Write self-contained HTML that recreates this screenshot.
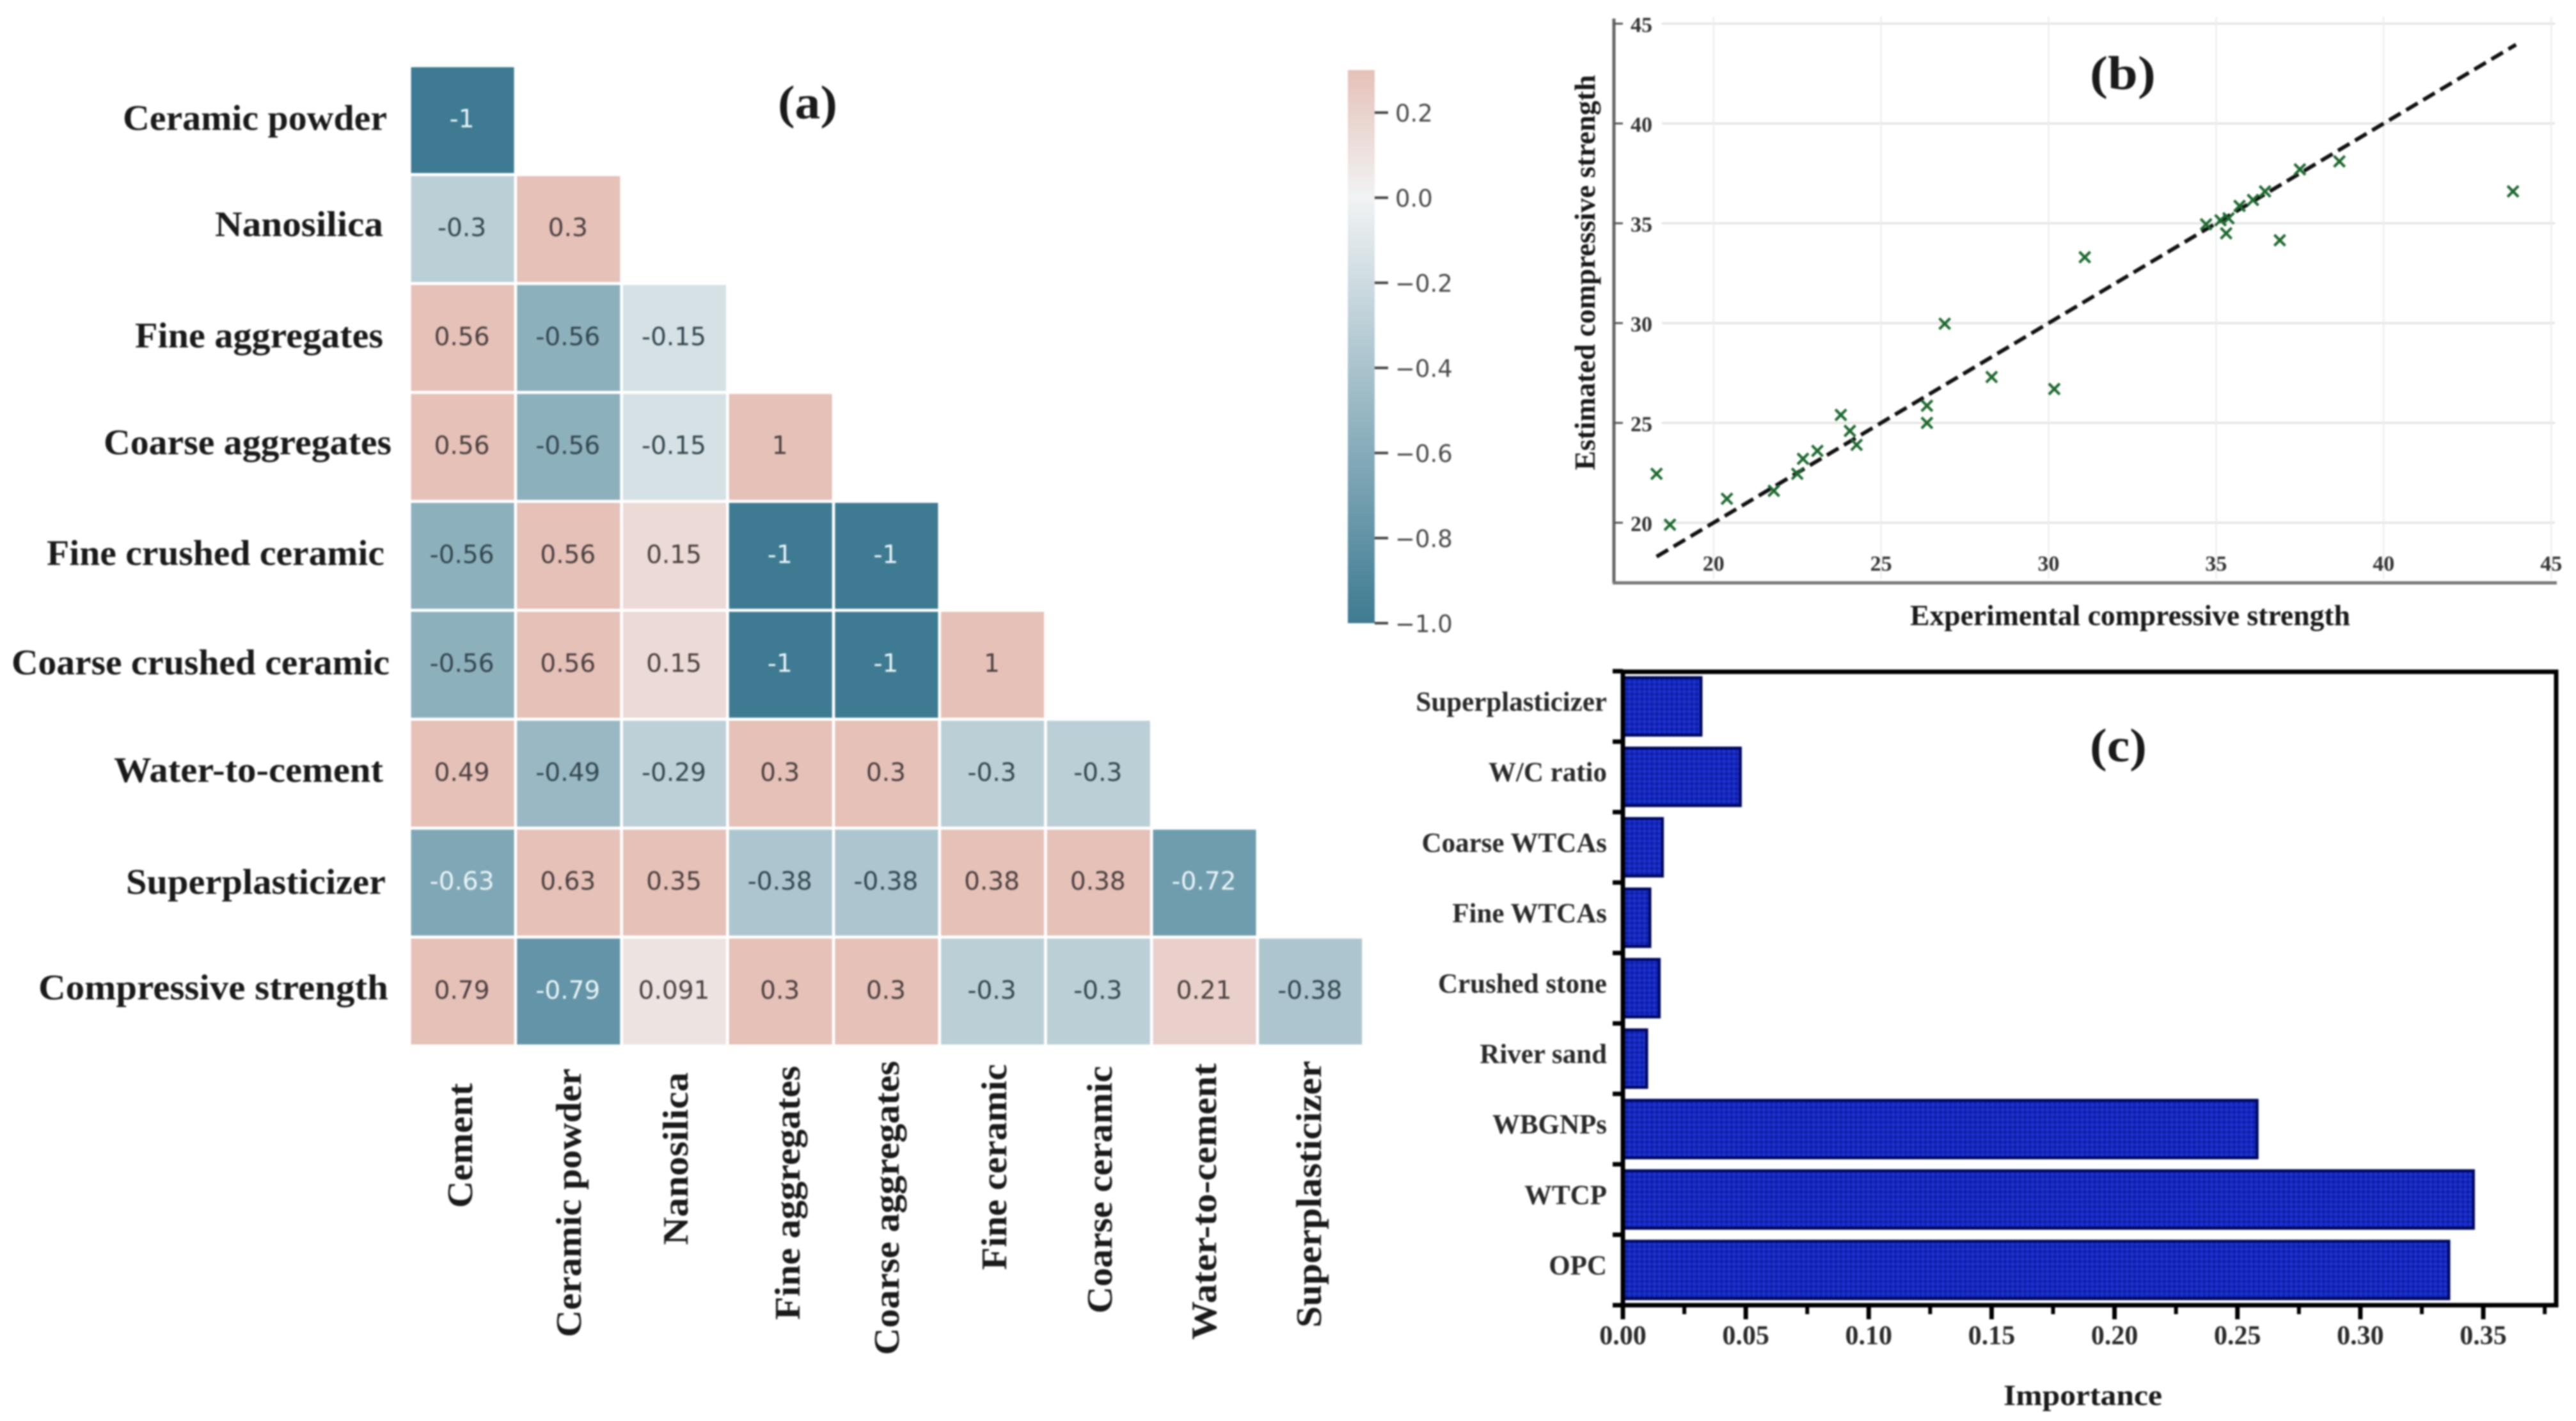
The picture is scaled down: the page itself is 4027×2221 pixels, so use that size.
<!DOCTYPE html>
<html lang="en">
<head>
<meta charset="utf-8">
<title>Correlation heatmap, prediction scatter and feature importance</title>
<style>
html,body{margin:0;padding:0;background:#fff;width:4027px;height:2221px;overflow:hidden}
svg{display:block;filter:blur(1.3px)}
.serif{font-family:"Liberation Serif",serif;font-weight:bold;fill:#1a1a1a}
.cellt{font-family:"DejaVu Sans",sans-serif;font-size:39px;text-anchor:middle}
.cbt{font-family:"DejaVu Sans",sans-serif;font-size:37px;fill:#4a4a4a}
</style>
</head>
<body>
<svg id="figure" xmlns="http://www.w3.org/2000/svg" width="4027" height="2221" viewBox="0 0 4027 2221">
  <defs>
    <pattern id="hatch" width="11" height="11" patternUnits="userSpaceOnUse" patternTransform="rotate(45)">
      <rect width="11" height="11" fill="#1c32d2"/>
      <rect width="5.5" height="5.5" fill="#0f1fa6"/>
      <rect x="5.5" y="5.5" width="5.5" height="5.5" fill="#0f1fa6"/>
    </pattern>
    <linearGradient id="cbgrad" x1="0" y1="1" x2="0" y2="0"></linearGradient>
  </defs>
  <rect width="4027" height="2221" fill="#fff"/>

  <g id="panel-a">
    <text class="serif" x="1216" y="185" font-size="74" textLength="93" lengthAdjust="spacingAndGlyphs">(a)</text>
    <g font-size="56">
      <text class="serif" x="192" y="203" textLength="413" lengthAdjust="spacingAndGlyphs">Ceramic powder</text>
      <text class="serif" x="336" y="369" textLength="263" lengthAdjust="spacingAndGlyphs">Nanosilica</text>
      <text class="serif" x="211" y="543" textLength="388" lengthAdjust="spacingAndGlyphs">Fine aggregates</text>
      <text class="serif" x="162" y="710" textLength="450" lengthAdjust="spacingAndGlyphs">Coarse aggregates</text>
      <text class="serif" x="73" y="883" textLength="528" lengthAdjust="spacingAndGlyphs">Fine crushed ceramic</text>
      <text class="serif" x="18" y="1054" textLength="591" lengthAdjust="spacingAndGlyphs">Coarse crushed ceramic</text>
      <text class="serif" x="178" y="1222" textLength="421" lengthAdjust="spacingAndGlyphs">Water-to-cement</text>
      <text class="serif" x="197" y="1397" textLength="406" lengthAdjust="spacingAndGlyphs">Superplasticizer</text>
      <text class="serif" x="60" y="1562" textLength="547" lengthAdjust="spacingAndGlyphs">Compressive strength</text>
    </g>
    <g font-size="56">
      <text class="serif" transform="translate(738 1888) rotate(-90)" textLength="195" lengthAdjust="spacingAndGlyphs">Cement</text>
      <text class="serif" transform="translate(908 2090) rotate(-90)" textLength="420" lengthAdjust="spacingAndGlyphs">Ceramic powder</text>
      <text class="serif" transform="translate(1075 1946) rotate(-90)" textLength="270" lengthAdjust="spacingAndGlyphs">Nanosilica</text>
      <text class="serif" transform="translate(1250 2063) rotate(-90)" textLength="397" lengthAdjust="spacingAndGlyphs">Fine aggregates</text>
      <text class="serif" transform="translate(1405 2118) rotate(-90)" textLength="460" lengthAdjust="spacingAndGlyphs">Coarse aggregates</text>
      <text class="serif" transform="translate(1573 1985) rotate(-90)" textLength="322" lengthAdjust="spacingAndGlyphs">Fine ceramic</text>
      <text class="serif" transform="translate(1738 2053) rotate(-90)" textLength="387" lengthAdjust="spacingAndGlyphs">Coarse ceramic</text>
      <text class="serif" transform="translate(1901 2094) rotate(-90)" textLength="432" lengthAdjust="spacingAndGlyphs">Water-to-cement</text>
      <text class="serif" transform="translate(2065 2075) rotate(-90)" textLength="417" lengthAdjust="spacingAndGlyphs">Superplasticizer</text>
    </g>
    <g id="heat-cells"></g>
    <g id="colorbar"></g>
  </g>

  <g id="panel-b">
    <g id="b-grid"></g>
    <line x1="2523" y1="29" x2="2523" y2="911" stroke="#666" stroke-width="5"/>
    <line x1="2521" y1="911" x2="3997" y2="911" stroke="#777" stroke-width="5"/>
    <g id="b-ticks"></g>
    <g id="b-marks"></g>
    <text class="serif" x="3267" y="139" font-size="74" textLength="103" lengthAdjust="spacingAndGlyphs">(b)</text>
    <text class="serif" transform="translate(2493 735) rotate(-90)" font-size="45" textLength="618" lengthAdjust="spacingAndGlyphs">Estimated compressive strength</text>
    <text class="serif" x="2986" y="977" font-size="45" textLength="688" lengthAdjust="spacingAndGlyphs">Experimental compressive strength</text>
  </g>

  <g id="panel-c">
    <g id="c-bars"></g>
    <rect x="2537" y="1050" width="1459" height="990" fill="none" stroke="#000" stroke-width="7"/>
    <g id="c-ticks"></g>
    <text class="serif" x="3267" y="1190" font-size="74" textLength="89" lengthAdjust="spacingAndGlyphs">(c)</text>
    <text class="serif" x="3132" y="2196" font-size="46" textLength="248" lengthAdjust="spacingAndGlyphs">Importance</text>
  </g>
</svg>

<script>
/* ---------- Panel (a) data ---------- */
const heatRows = ['Ceramic powder','Nanosilica','Fine aggregates','Coarse aggregates','Fine crushed ceramic','Coarse crushed ceramic','Water-to-cement','Superplasticizer','Compressive strength'];
const heatCols = ['Cement','Ceramic powder','Nanosilica','Fine aggregates','Coarse aggregates','Fine ceramic','Coarse ceramic','Water-to-cement','Superplasticizer'];
const heatValues = [
  [-1],
  [-0.3, 0.3],
  [0.56, -0.56, -0.15],
  [0.56, -0.56, -0.15, 1],
  [-0.56, 0.56, 0.15, -1, -1],
  [-0.56, 0.56, 0.15, -1, -1, 1],
  [0.49, -0.49, -0.29, 0.3, 0.3, -0.3, -0.3],
  [-0.63, 0.63, 0.35, -0.38, -0.38, 0.38, 0.38, -0.72],
  [0.79, -0.79, 0.091, 0.3, 0.3, -0.3, -0.3, 0.21, -0.38]
];
const colorbarTicks = [0.2, 0, -0.2, -0.4, -0.6, -0.8, -1];

/* ---------- Panel (b) data ---------- */
const experimental = [18.3,18.7,20.4,21.8,22.5,22.67,23.1,23.8,24.07,24.27,26.37,26.37,26.9,28.3,30.17,31.08,34.7,35.13,35.3,35.37,35.7,36.1,36.46,36.9,37.5,38.68,43.86];
const estimated = [22.45,19.9,21.2,21.6,22.45,23.2,23.6,25.4,24.6,23.9,25.86,25.0,29.97,27.3,26.7,33.3,34.95,35.15,34.5,35.25,35.87,36.17,36.6,34.15,37.7,38.1,36.6];
const fitLine = [18.3, 43.95];
const scatterXTicks = [20,25,30,35,40,45];
const scatterYTicks = [20,25,30,35,40,45];

/* ---------- Panel (c) data ---------- */
const barCategories = ['OPC','WTCP','WBGNPs','River sand','Crushed stone','Fine WTCAs','Coarse WTCAs','W/C ratio','Superplasticizer'];
const barValues = [0.336,0.346,0.258,0.0097,0.0148,0.011,0.0161,0.0478,0.0318];
const barXTicks = ['0.00','0.05','0.10','0.15','0.20','0.25','0.30','0.35'];
const barMinorTicks = [0.025,0.075,0.125,0.175,0.225,0.275,0.325,0.375];

/* ---------- helpers ---------- */
const NS = 'http://www.w3.org/2000/svg';
function mk(tag, attrs, parent, txt) {
  const el = document.createElementNS(NS, tag);
  for (const k in attrs) el.setAttribute(k, attrs[k]);
  if (txt !== undefined) el.textContent = txt;
  parent.appendChild(el);
  return el;
}
function slug(s) { return s.toLowerCase().replace(/[^a-z0-9]+/g, '-'); }

/* ---------- heatmap ---------- */
const hx = c => 642.6 + 165.7 * c;
const hy = r => 105 + 170.25 * r;
const cellW = 161, cellH = 165.5;
function colorFor(v) {
  const neg = [62, 123, 146], mid = [241, 243, 244], pos = [229, 193, 184];
  let t, a;
  if (v < 0) { t = Math.min(1, -v); a = neg; } else { t = Math.min(1, v / 0.3); a = pos; }
  const c = mid.map((m, i) => Math.round(m + (a[i] - m) * t));
  return 'rgb(' + c.join(',') + ')';
}
const cellsG = document.getElementById('heat-cells');
heatValues.forEach((row, r) => {
  row.forEach((v, c) => {
    const rect = mk('rect', {x: hx(c), y: hy(r), width: cellW, height: cellH, fill: colorFor(v)}, cellsG);
    
    
    const label = mk('text', {class: 'cellt', x: hx(c) + cellW / 2 - 1, y: hy(r) + cellH / 2 + 11, fill: v < -0.6 ? '#e9f4f7' : (v > 0 ? '#4b4040' : '#33474f')}, cellsG, String(v));
    
    
  });
});

/* ---------- colorbar ---------- */
const cbY = v => 309 - 665 * v;
const cbG = document.getElementById('colorbar');
const grad = document.getElementById('cbgrad');
[-1, 0, 0.3].forEach(v => {
  mk('stop', {offset: (v + 1) / 1.3, 'stop-color': colorFor(v)}, grad);
});
const cbRect = mk('rect', {x: 2107, y: cbY(0.3), width: 42, height: cbY(-1) - cbY(0.3), fill: 'url(#cbgrad)'}, cbG);


colorbarTicks.forEach(v => {
  const tick = mk('line', {x1: 2149, x2: 2170, y1: cbY(v), y2: cbY(v), stroke: '#444', 'stroke-width': 4}, cbG);
  
  
  const t = mk('text', {class: 'cbt', x: 2181, y: cbY(v) + 14}, cbG, (v < 0 ? '\u2212' : '') + Math.abs(v).toFixed(1));
  
  
});

/* ---------- scatter ---------- */
const sx = v => 2678.7 + 52.38 * (v - 20);
const sy = v => 817 - 31.2 * (v - 20);
const gridG = document.getElementById('b-grid');
const tickG = document.getElementById('b-ticks');
const markG = document.getElementById('b-marks');
scatterYTicks.forEach(v => {
  const g = mk('line', {x1: 2598, x2: 3994, y1: sy(v), y2: sy(v), stroke: '#e6e6e6', 'stroke-width': 3.5}, gridG);
  
  
  const k = mk('line', {x1: 2523, x2: 2537, y1: sy(v), y2: sy(v), stroke: '#555', 'stroke-width': 3}, tickG);
  
  
  const t = mk('text', {class: 'serif', x: 2566, y: sy(v) + 13, 'font-size': 34, 'text-anchor': 'middle', style: 'fill:#333'}, tickG, String(v));
  
  
});
scatterXTicks.forEach(v => {
  const g = mk('line', {x1: sx(v), x2: sx(v), y1: 26, y2: 905, stroke: '#eeeeee', 'stroke-width': 2.5}, gridG);
  
  
  const t = mk('text', {class: 'serif', x: sx(v), y: 892, 'font-size': 34, 'text-anchor': 'middle', style: 'fill:#333'}, tickG, String(v));
  
  
});
const fit = mk('line', {x1: sx(fitLine[0]), y1: sy(fitLine[0]), x2: sx(fitLine[1]), y2: sy(fitLine[1]), stroke: '#111', 'stroke-width': 6, 'stroke-dasharray': '21 10'}, markG);


experimental.forEach((x, i) => {
  const px = sx(x), py = sy(estimated[i]), s = 8.5;
  const p = mk('path', {d: 'M' + (px - s) + ' ' + (py - s) + 'L' + (px + s) + ' ' + (py + s) + 'M' + (px + s) + ' ' + (py - s) + 'L' + (px - s) + ' ' + (py + s), stroke: '#1f6a30', 'stroke-width': 4.2, fill: 'none'}, markG);
  
  
});

/* ---------- bars ---------- */
const bx = v => 2537 + 3843 * v;
const bandTop = i => 2040 - 110.1 * (i + 1);
const barsG = document.getElementById('c-bars');
const cTicks = document.getElementById('c-ticks');
barValues.forEach((v, i) => {
  const b = mk('rect', {x: bx(0), y: bandTop(i) + 10, width: bx(v) - bx(0), height: 90, fill: 'url(#hatch)', stroke: '#00085e', 'stroke-width': 4.5}, barsG);
  
  
  const t = mk('text', {class: 'serif', x: 2512, y: bandTop(i) + 62, 'font-size': 43, 'text-anchor': 'end', style: 'fill:#2a2a2a'}, cTicks, barCategories[i]);
  
  
});
for (let i = 0; i <= barValues.length; i++) {
  const y = 2040 - 110.1 * i;
  const k = mk('line', {x1: 2521, x2: 2537, y1: y, y2: y, stroke: '#000', 'stroke-width': 7}, cTicks);
  
  
}
barXTicks.forEach(s => {
  const v = parseFloat(s);
  const k = mk('line', {x1: bx(v), x2: bx(v), y1: 2040, y2: 2062, stroke: '#000', 'stroke-width': 7}, cTicks);
  
  
  const t = mk('text', {class: 'serif', x: bx(v), y: 2101, 'font-size': 42, 'text-anchor': 'middle', style: 'fill:#2a2a2a'}, cTicks, s);
  
  
});
barMinorTicks.forEach(v => {
  const k = mk('line', {x1: bx(v), x2: bx(v), y1: 2040, y2: 2054, stroke: '#000', 'stroke-width': 6}, cTicks);
  
  
});
</script>
</body>
</html>
